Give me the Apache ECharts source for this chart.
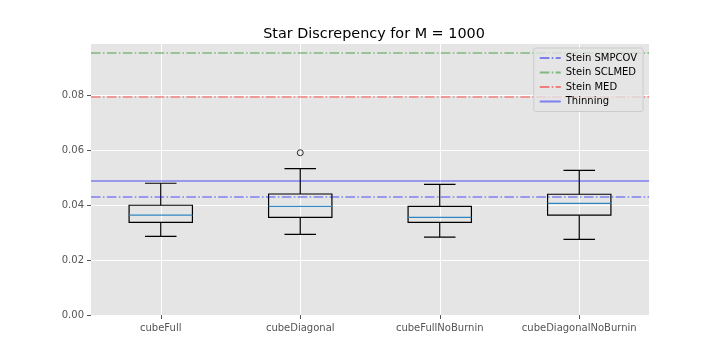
<!DOCTYPE html>
<html>
<head>
<meta charset="utf-8">
<script src="https://cdn.jsdelivr.net/npm/echarts@6/dist/echarts.min.js"></script>
<style>
  html, body { margin: 0; padding: 0; background: #fff; }
  #container { width: 720px; height: 360px; }
</style>
</head>
<body>
<div id="container"></div>
<script>
var categories = ['cubeFull', 'cubeDiagonal', 'cubeFullNoBurnin', 'cubeDiagonalNoBurnin'];
var whiskerLow = [0.0286, 0.0293, 0.0283, 0.0275];
var quartile1 = [0.0337, 0.0355, 0.0337, 0.0363];
var medians = [0.0363, 0.0395, 0.0355, 0.0406];
var quartile3 = [0.0399, 0.0440, 0.0395, 0.0439];
var whiskerHigh = [0.0479, 0.0532, 0.0475, 0.0526];
var outlierCats = ['cubeDiagonal'];
var outlierVals = [0.0590];
var refNames = ['Stein SMPCOV', 'Stein SCLMED', 'Stein MED', 'Thinning'];
var refValues = [0.0429, 0.0953, 0.0795, 0.0487];
var yTicks = [0, 0.02, 0.04, 0.06, 0.08];

var dashDot = [9.6, 2.4, 1.5, 2.4];
var refColors = ['rgba(0,0,255,0.45)', 'rgba(0,128,0,0.45)', 'rgba(255,0,0,0.45)', 'rgba(0,0,255,0.45)'];
var refTypes = [dashDot, dashDot, dashDot, 'solid'];

var dom = document.getElementById('container');
var myChart = echarts.init(dom);

// box data rows built from the arrays
var boxData = [];
for (var i = 0; i < categories.length; i++) {
    boxData.push([i, whiskerLow[i], quartile1[i], medians[i], quartile3[i], whiskerHigh[i]]);
}

function renderBox(params, api) {
    var idx = api.value(0);
    var band = api.size([1, 0])[0];
    var hw = band * 0.227;
    var cw = band * 0.113;
    var pLow = api.coord([idx, api.value(1)]);
    var pQ1 = api.coord([idx, api.value(2)]);
    var pMed = api.coord([idx, api.value(3)]);
    var pQ3 = api.coord([idx, api.value(4)]);
    var pHigh = api.coord([idx, api.value(5)]);
    var x = pQ1[0];
    var black = { stroke: '#000', lineWidth: 1.2, fill: null };
    return {
        type: 'group',
        children: [
            { type: 'line', shape: { x1: x, y1: pLow[1], x2: x, y2: pQ1[1] }, style: black },
            { type: 'line', shape: { x1: x, y1: pQ3[1], x2: x, y2: pHigh[1] }, style: black },
            { type: 'line', shape: { x1: x - cw, y1: pLow[1], x2: x + cw, y2: pLow[1] }, style: black },
            { type: 'line', shape: { x1: x - cw, y1: pHigh[1], x2: x + cw, y2: pHigh[1] }, style: black },
            { type: 'rect', shape: { x: x - hw, y: pQ3[1], width: hw * 2, height: pQ1[1] - pQ3[1] }, style: black },
            { type: 'line', shape: { x1: x - hw, y1: pMed[1], x2: x + hw, y2: pMed[1] }, style: { stroke: '#2f86c2', lineWidth: 1.2 } }
        ]
    };
}

var series = [];

// vertical grid lines at the category centres
series.push({
    type: 'line',
    data: [],
    silent: true,
    z: 1,
    markLine: {
        silent: true,
        z: 1,
        symbol: 'none',
        label: { show: false },
        lineStyle: { color: '#fff', width: 1, type: 'solid' },
        data: categories.map(function(c) { return { xAxis: c }; })
    }
});

series.push({
    type: 'custom',
    renderItem: renderBox,
    encode: { x: 0, y: [1, 2, 3, 4, 5] },
    data: boxData,
    z: 2
});

series.push({
    type: 'scatter',
    symbol: 'circle',
    symbolSize: 6,
    itemStyle: { color: 'rgba(0,0,0,0)', borderColor: '#000', borderWidth: 1 },
    data: outlierCats.map(function(c, i) { return [c, outlierVals[i]]; }),
    z: 2
});

for (var k = 0; k < refNames.length; k++) {
    series.push({
        name: refNames[k],
        type: 'line',
        data: [],
        symbol: 'none',
        z: 3,
        lineStyle: { color: refColors[k], width: 1.5, type: refTypes[k] },
        itemStyle: { color: 'rgba(0,0,0,0)', opacity: 0, borderWidth: 0 },
        markLine: {
            silent: true,
            z: 3,
            symbol: 'none',
            precision: 5,
            label: { show: false },
            lineStyle: { color: refColors[k], width: 1.5, type: refTypes[k] },
            data: [{ yAxis: refValues[k] }]
        }
    });
}

var option = {
    backgroundColor: '#fff',
    animation: false,
    textStyle: { fontFamily: 'DejaVu Sans' },
    title: {
        text: 'Star Discrepency for M = 1000',
        left: 369,
        top: 22,
        textAlign: 'center',
        textStyle: { fontFamily: 'DejaVu Sans', fontSize: 14.4, fontWeight: 'normal', color: '#000' }
    },
    legend: {
        data: refNames,
        orient: 'vertical',
        right: 77,
        top: 48,
        z: 10,
        itemWidth: 21,
        itemHeight: 10,
        itemGap: 4.5,
        padding: [5, 6, 5, 5],
        backgroundColor: 'rgba(229,229,229,0.8)',
        borderColor: '#cccccc',
        borderWidth: 1,
        borderRadius: 2,
        itemStyle: { opacity: 0 },
        textStyle: { fontFamily: 'DejaVu Sans', fontSize: 10, color: '#000' }
    },
    grid: {
        left: 91,
        right: 71,
        top: 43,
        bottom: 45,
        show: true,
        backgroundColor: '#E5E5E5',
        borderWidth: 0
    },
    xAxis: {
        type: 'category',
        data: categories,
        boundaryGap: true,
        axisLine: { show: false },
        axisTick: { show: true, alignWithLabel: true, length: 4, lineStyle: { color: '#555' } },
        axisLabel: { interval: 0, color: '#555', fontSize: 10, fontFamily: 'DejaVu Sans', margin: 8 },
        splitLine: { show: false }
    },
    yAxis: {
        type: 'value',
        min: 0,
        max: 0.0989,
        interval: 0.02,
        axisLine: { show: false },
        axisTick: { show: true, length: 4, lineStyle: { color: '#555' } },
        axisLabel: {
            color: '#555',
            fontSize: 10,
            fontFamily: 'DejaVu Sans',
            margin: 7,
            showMaxLabel: false,
            formatter: function(v) { return yTicks.indexOf(Math.round(v * 100) / 100) >= 0 ? v.toFixed(2) : ''; }
        },
        splitLine: { show: true, lineStyle: { color: '#fff', width: 1 } }
    },
    series: series
};

myChart.setOption(option, true);
</script>
</body>
</html>
